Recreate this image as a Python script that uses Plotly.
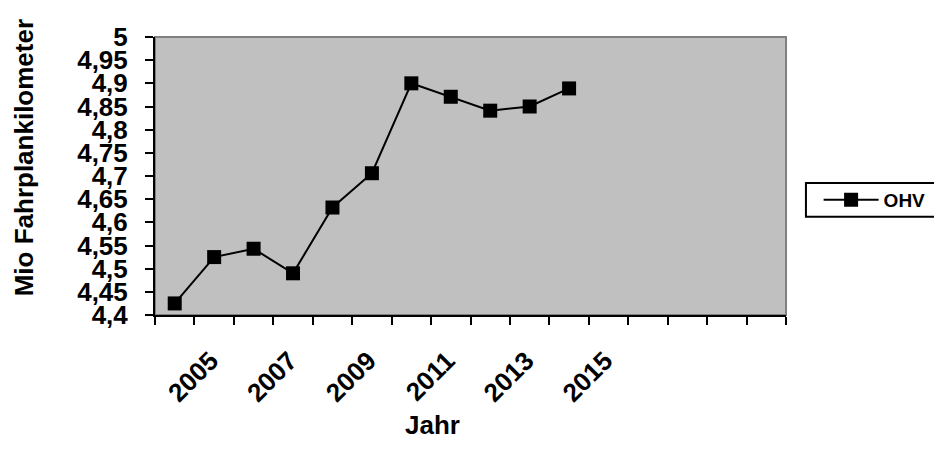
import plotly.graph_objects as go

# data
years = [2005, 2006, 2007, 2008, 2009, 2010, 2011, 2012, 2013, 2014, 2015]
ohv = [4.425, 4.525, 4.543, 4.49, 4.632, 4.706, 4.90, 4.871, 4.841, 4.85, 4.889]

x_labels = [2005, 2007, 2009, 2011, 2013, 2015]
y_ticks = [4.4, 4.45, 4.5, 4.55, 4.6, 4.65, 4.7, 4.75, 4.8, 4.85, 4.9, 4.95, 5.0]
y_text = ["4,4", "4,45", "4,5", "4,55", "4,6", "4,65", "4,7",
          "4,75", "4,8", "4,85", "4,9", "4,95", "5"]

FONT = "Liberation Sans"

fig = go.Figure()
fig.add_trace(go.Scatter(
    x=years, y=ohv, name="<b>OHV</b>",
    mode="lines+markers",
    line=dict(color="black", width=2),
    marker=dict(symbol="square", size=14, color="black"),
))

# the page body adds an 8px offset, so the figure is 8px smaller
fig.update_layout(
    width=934, height=454,
    margin=dict(l=147, r=155, t=29, b=147),
    paper_bgcolor="white",
    plot_bgcolor="#C0C0C0",
    font=dict(family=FONT, color="black"),
    showlegend=True,
    legend=dict(
        x=1.05, y=0.414, xanchor="left", yanchor="middle",
        borderwidth=0, bgcolor="rgba(0,0,0,0)",
        font=dict(size=19, family=FONT),
        itemwidth=55,
    ),
    shapes=[
        dict(type="rect", xref="paper", yref="paper", x0=0, x1=1, y0=0, y1=1,
             line=dict(color="#808080", width=2), layer="below"),
        # legend frame
        dict(type="rect", xref="paper", yref="paper", x0=1.0316, x1=1.24,
             y0=0.353, y1=0.475, line=dict(color="black", width=2)),
    ],
    annotations=[
        dict(text="<b>Jahr</b>", xref="paper", yref="paper", x=0.439, y=-0.395,
             showarrow=False, font=dict(size=26, family=FONT),
             xanchor="center", yanchor="middle"),
        dict(text="<b>Mio Fahrplankilometer</b>", xref="paper", yref="paper",
             x=-0.207, y=0.565, textangle=-90, showarrow=False,
             font=dict(size=26, family=FONT), xanchor="center", yanchor="middle"),
    ],
)

fig.update_xaxes(
    range=[2004.5, 2020.5], automargin=False,
    tickmode="array", tickvals=x_labels, ticktext=[f"<b>{v}</b>" for v in x_labels],
    tickangle=-45,
    tickfont=dict(size=26, family=FONT),
    ticks="outside", ticklen=0.1, tickcolor="black",
    minor=dict(tick0=2004.5, dtick=1, ticks="outside", ticklen=8,
               tickwidth=2, tickcolor="black", showgrid=False),
    ticklabelshift=36, ticklabelstandoff=18,
    showline=True, linecolor="black", linewidth=2,
    showgrid=False, zeroline=False,
)

fig.update_yaxes(
    range=[4.4, 5.0], automargin=False,
    tickmode="array", tickvals=y_ticks, ticktext=[f"<b>{t}</b>" for t in y_text],
    tickfont=dict(size=26, family=FONT),
    ticks="outside", ticklen=8, tickwidth=2, tickcolor="black",
    ticklabelstandoff=12,
    showline=True, linecolor="black", linewidth=2,
    showgrid=False, zeroline=False,
)

fig.write_html("out.html")
